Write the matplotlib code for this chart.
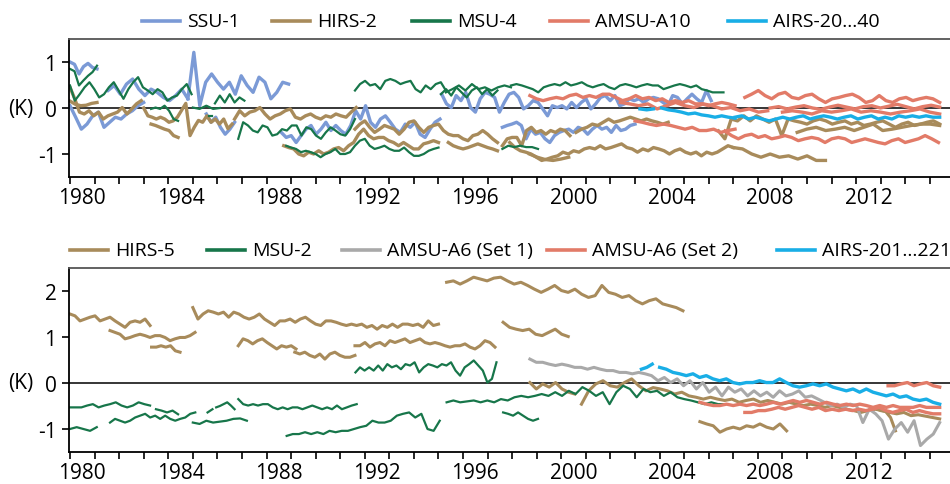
import numpy as np
import matplotlib
matplotlib.use('Agg')
import matplotlib.pyplot as plt
from matplotlib.lines import Line2D
from matplotlib.transforms import blended_transform_factory

plt.rcParams['font.family'] = ['Open Sans', 'DejaVu Sans']
plt.rcParams['axes.unicode_minus'] = False

# colours
c_ssu = '#7b9ad6'
c_hirs = '#a88b5b'
c_msu = '#17764a'
c_amsu = '#e27b68'
c_airs = '#19aee6'
c_gray = '#a9a9a9'

# ---------------- top panel: (start year, end year, values in K) ----------------
ssu1 = [
    (1980.0, 1981.1, [1.0, 0.95, 0.74, 0.9, 0.97, 0.88, 0.85]),
    (1980.0, 1983.0, [0.05, -0.2, -0.46, -0.35, -0.17, -0.09, -0.42, -0.31, -0.2, -0.24, -0.13, -0.06, 0.05, 0.12]),
    (1981.55, 1984.8, [0.38, 0.49, 0.3, 0.52, 0.63, 0.41, 0.27, 0.41, 0.34, 0.23, 0.16, 0.27, 0.41, 0.2]),
    (1984.8, 1988.9, [0.2, 1.21, 0.05, 0.56, 0.74, 0.56, 0.41, 0.56, 0.3, 0.7, 0.49, 0.34, 0.67, 0.56, 0.2, 0.34, 0.56, 0.52]),
    (1985.55, 1986.7, [-0.13, -0.31, -0.2, -0.42, -0.57, -0.46, -0.31]),
    (1988.6, 1995.06, [-0.53, -0.64, -0.6, -0.75, -0.6, -0.46, -0.38, -0.57, -0.46, -0.31, -0.49, -0.38, -0.49, -0.57, -0.38,
                       -0.06, -0.24, 0.05, -0.31, -0.42, -0.24, -0.17, -0.31, -0.46, -0.53, -0.35, -0.42, -0.31, -0.57, -0.64,
                       -0.46, -0.31, -0.24]),
    (1995.13, 2006.1, [0.3, 0.09, 0.01, 0.27, 0.16, 0.34, 0.01, -0.09, 0.2, 0.34, 0.3, 0.23, -0.09, 0.12, 0.3, 0.34,
                       0.23, -0.02, 0.05, 0.16, 0.12, -0.02, -0.17, 0.05, 0.01, 0.05, -0.02, 0.12, 0.01, 0.12, 0.2, -0.02,
                       0.09, 0.23, 0.27, 0.16, 0.27, 0.05, 0.09, 0.2, 0.16, 0.2, 0.12, 0.2, 0.23, 0.2, 0.12, 0.05, 0.27,
                       0.23, 0.09, 0.2, 0.3, 0.2, 0.12, 0.38, 0.16]),
    (1997.6, 2003.0, [-0.42, -0.38, -0.35, -0.31, -0.38, -0.67, -0.46, -0.57, -0.53, -0.67, -0.75, -0.6, -0.53, -0.49,
                      -0.46, -0.53, -0.42, -0.46, -0.57, -0.46, -0.38, -0.46, -0.42, -0.53, -0.38, -0.49, -0.46, -0.38, -0.35]),
]

hirs2 = [
    (1980.0, 1981.1, [0.15, 0.08, 0.05, 0.06, 0.1, 0.12]),
    (1980.0, 1982.9, [0.45, 0.2, -0.09, -0.13, -0.06, -0.17, -0.09, -0.24, -0.17, -0.13, -0.09, 0.01, -0.13, -0.02, 0.09, 0.16]),
    (1983.0, 1986.6, [0.0, -0.17, -0.2, -0.24, -0.2, -0.24, -0.31, -0.28, -0.2, -0.05, 0.1, -0.6, -0.42, -0.27,
                      -0.31, -0.17, -0.31, -0.24, -0.35, -0.24, -0.45, -0.35]),
    (1983.3, 1984.4, [-0.35, -0.38, -0.42, -0.46, -0.49, -0.6, -0.64]),
    (1986.7, 1991.65, [-0.24, -0.06, -0.17, -0.09, -0.06, 0.01, -0.13, -0.24, -0.17, -0.13, -0.06, -0.02, -0.2, -0.24,
                       -0.17, -0.13, -0.2, -0.24, -0.17, -0.2, -0.13, -0.17, -0.2, -0.09, 0.01]),
    (1988.7, 1995.0, [-0.82, -0.86, -0.89, -1.0, -1.04, -0.96, -1.0, -0.93, -1.0, -0.96, -0.89, -0.86, -0.93, -0.82, -0.75,
                      -0.57, -0.46, -0.6, -0.67, -0.64, -0.64, -0.71, -0.75, -0.82, -0.75, -0.82, -0.89, -0.89, -0.78, -0.75,
                      -0.71, -0.75]),
    (1991.6, 1997.4, [-0.46, -0.35, -0.28, -0.42, -0.53, -0.46, -0.38, -0.42, -0.46, -0.57, -0.46, -0.31, -0.28, -0.42,
                      -0.53, -0.42, -0.38, -0.35, -0.49, -0.57, -0.6, -0.6, -0.67, -0.71, -0.6, -0.57, -0.49, -0.57, -0.67, -0.75]),
    (1995.4, 1997.4, [-0.75, -0.82, -0.86, -0.89, -0.86, -0.82, -0.78, -0.82, -0.86, -0.89, -0.93]),
    (1997.6, 2000.35, [-0.82, -0.67, -0.64, -0.64, -0.82, -0.49, -0.42, -0.53, -0.49, -0.57, -0.49, -0.53, -0.46, -0.49, -0.6]),
    (2000.6, 2004.35, [-0.53, -0.46, -0.42, -0.35, -0.38, -0.31, -0.24, -0.31, -0.28, -0.24, -0.2, -0.24, -0.28,
                       -0.24, -0.28, -0.31, -0.35, -0.31]),
    (1997.9, 2007.0, [-0.75, -0.86, -0.93, -0.96, -1.0, -1.07, -1.14, -1.11, -1.07, -1.04, -0.96, -1.0, -0.93, -0.96,
                      -0.89, -0.86, -0.89, -0.82, -0.89, -0.86, -0.82, -0.78, -0.86, -0.89, -0.96, -0.89, -0.93, -0.86,
                      -0.89, -0.93, -1.0, -0.93, -0.89, -0.96, -1.0, -0.96, -1.04, -0.96, -1.0, -0.96, -0.89, -0.82, -0.86]),
    (2007.0, 2010.75, [-0.86, -0.89, -1.0, -1.07, -1.0, -1.07, -1.04, -1.11, -1.04, -1.14, -1.14]),
    (1998.7, 2000.3, [-1.0, -1.07, -1.12, -1.14, -1.11, -1.07]),
    (2006.4, 2015.4, [-0.5, -0.67, -0.24, -0.28, -0.17, -0.28, -0.17, -0.24, -0.31, -0.24, -0.6, -0.24, -0.28, -0.31,
                      -0.35, -0.28, -0.24, -0.28, -0.35, -0.31, -0.28, -0.35, -0.31, -0.38, -0.35, -0.31, -0.28, -0.35,
                      -0.42, -0.35, -0.31, -0.38, -0.35, -0.31, -0.28, -0.35]),
    (2009.6, 2015.4, [-0.53, -0.46, -0.42, -0.49, -0.46, -0.42, -0.49, -0.42, -0.35, -0.49, -0.46, -0.42, -0.38, -0.35, -0.35, -0.38]),
]

msu4 = [
    (1980.0, 1981.1, [0.85, 0.8, 0.49, 0.6, 0.7, 0.78, 0.92]),
    (1980.0, 1984.95, [0.49, 0.16, 0.3, 0.45, 0.56, 0.41, 0.23, 0.3, 0.45, 0.56, 0.38, 0.2, 0.41, 0.56, 0.67, 0.45,
                       0.38, 0.3, 0.41, 0.34, 0.16, 0.23, 0.27, 0.41, 0.52, 0.3]),
    (1983.3, 1984.4, [-0.02, 0.01, -0.02, 0.05, -0.06, -0.24, -0.28]),
    (1985.0, 1986.1, [0.01, -0.02, 0.05, -0.02, 0.0]),
    (1985.65, 1985.8, [-0.17, -0.17]),
    (1985.9, 1987.1, [0.1, 0.27, 0.12, 0.3, 0.12, 0.23, 0.16]),
    (1986.85, 1991.6, [-0.67, -0.31, -0.38, -0.49, -0.53, -0.38, -0.42, -0.6, -0.57, -0.46, -0.49, -0.38, -0.38, -0.6,
                       -0.42, -0.46, -0.6, -0.67, -0.53, -0.42, -0.49, -0.57, -0.6, -0.46, -0.24]),
    (1988.8, 1995.0, [-0.82, -0.86, -0.89, -0.96, -0.93, -0.96, -1.0, -1.07, -1.0, -0.96, -0.89, -1.0, -1.0, -0.96, -0.82,
                      -0.71, -0.67, -0.82, -0.89, -0.86, -0.82, -0.89, -0.93, -0.93, -0.86, -0.96, -1.04, -1.04, -1.0, -0.93,
                      -0.89, -0.86]),
    (1991.6, 1995.3, [0.38, 0.52, 0.59, 0.49, 0.52, 0.41, 0.59, 0.63, 0.59, 0.52, 0.56, 0.59, 0.41, 0.34, 0.49, 0.41,
                      0.52, 0.56, 0.38]),
    (1995.3, 1997.95, [0.34, 0.41, 0.49, 0.38, 0.52, 0.41, 0.45, 0.38, 0.45, 0.49, 0.45]),
    (1997.95, 2006.6, [0.49, 0.52, 0.49, 0.45, 0.41, 0.34, 0.45, 0.49, 0.52, 0.49, 0.56, 0.49, 0.52, 0.56, 0.49, 0.45,
                       0.49, 0.52, 0.45, 0.41, 0.49, 0.52, 0.49, 0.45, 0.49, 0.52, 0.49, 0.49, 0.41, 0.45, 0.49, 0.52,
                       0.49, 0.45, 0.49, 0.41, 0.38, 0.34, 0.34, 0.34]),
    (1995.1, 1997.4, [0.3, 0.41, 0.27, 0.45, 0.34, 0.23, 0.38, 0.45, 0.3, 0.41, 0.27, 0.38]),
    (1997.6, 1999.05, [-0.89, -0.82, -0.85, -0.82, -0.85, -0.85, -0.89]),
]

amsu10 = [
    (1998.72, 2007.07, [0.27, 0.2, 0.16, 0.2, 0.23, 0.2, 0.27, 0.3, 0.23, 0.27, 0.23, 0.3, 0.3, 0.23, 0.16, 0.2, 0.27,
                        0.2, 0.23, 0.16, 0.2, 0.12, 0.16, 0.12, 0.16, 0.09, 0.09, 0.05, 0.09, 0.12, 0.09, 0.05]),
    (2002.4, 2008.4, [0.12, 0.09, 0.05, 0.09, -0.02, 0.05, 0.12, 0.05, 0.01, 0.09, 0.05, -0.02, 0.01, -0.06, -0.02, -0.09, -0.06]),
    (2007.47, 2015.4, [0.23, 0.3, 0.38, 0.27, 0.2, 0.3, 0.34, 0.23, 0.2, 0.27, 0.3, 0.2, 0.12, 0.2, 0.23, 0.27, 0.3,
                       0.23, 0.12, 0.16, 0.27, 0.16, 0.12, 0.2, 0.23, 0.16, 0.2, 0.23, 0.2, 0.12]),
    (2008.5, 2015.4, [0.0, 0.03, -0.02, 0.02, 0.05, 0.0, -0.03, 0.02, 0.06, 0.02, -0.02, 0.03, 0.05, 0.0, 0.04, 0.08,
                      0.03, -0.02, 0.03, 0.06, 0.02]),
    (2009.0, 2015.4, [-0.09, -0.06, -0.09, -0.13, -0.06, -0.09, -0.06, -0.02, -0.09, -0.06, -0.09, -0.13, -0.09, -0.06,
                      -0.02, -0.09, -0.13]),
    (2003.0, 2007.07, [-0.28, -0.31, -0.35, -0.38, -0.35, -0.38, -0.42, -0.46, -0.42, -0.49, -0.49, -0.46, -0.53, -0.49, -0.46]),
    (2006.66, 2015.35, [-0.5, -0.6, -0.67, -0.6, -0.57, -0.64, -0.6, -0.67, -0.64, -0.6, -0.64, -0.71, -0.67, -0.64,
                        -0.67, -0.75, -0.67, -0.64, -0.67, -0.75, -0.71, -0.67, -0.71, -0.75, -0.78, -0.71, -0.67, -0.75,
                        -0.71, -0.67, -0.6, -0.67, -0.75]),
]

airs40 = [
    (2003.2, 2003.75, [-0.02, -0.04, -0.02]),
    (2004.08, 2007.07, [0.0, -0.04, -0.06, -0.09, -0.13, -0.11, -0.15, -0.17, -0.2, -0.17, -0.2, -0.22]),
    (2007.07, 2015.4, [-0.2, -0.17, -0.24, -0.2, -0.24, -0.28, -0.24, -0.2, -0.24, -0.2, -0.17, -0.24, -0.2, -0.17,
                       -0.2, -0.24, -0.2, -0.17, -0.24, -0.2, -0.17, -0.24, -0.2, -0.24, -0.17, -0.2, -0.17, -0.2,
                       -0.17, -0.2, -0.2]),
]

# ---------------- bottom panel ----------------
hirs5 = [
    (1980.0, 1983.26, [1.5, 1.46, 1.35, 1.39, 1.43, 1.46, 1.35, 1.39, 1.43, 1.35, 1.28, 1.21, 1.32, 1.35, 1.32, 1.39, 1.25]),
    (1981.63, 1985.09, [1.14, 1.1, 1.06, 0.96, 0.99, 1.03, 1.06, 1.03, 0.99, 1.03, 1.03, 0.99, 0.92, 0.96, 0.99, 0.99, 1.03, 1.1]),
    (1983.32, 1984.48, [0.78, 0.78, 0.81, 0.78, 0.81, 0.7, 0.67]),
    (1985.0, 1995.0, [1.64, 1.39, 1.5, 1.57, 1.54, 1.5, 1.54, 1.43, 1.54, 1.5, 1.43, 1.39, 1.43, 1.5, 1.39, 1.32, 1.25,
                      1.35, 1.35, 1.39, 1.32, 1.39, 1.43, 1.35, 1.28, 1.25, 1.35, 1.35, 1.32, 1.28, 1.25, 1.28, 1.25,
                      1.28, 1.21, 1.25, 1.17, 1.25, 1.21, 1.28, 1.21, 1.28, 1.28, 1.25, 1.28, 1.21, 1.35, 1.25, 1.28]),
    (1986.85, 1989.2, [0.81, 0.96, 0.92, 0.85, 0.92, 0.96, 0.88, 0.81, 0.74, 0.81, 0.78, 0.81, 0.74]),
    (1989.15, 1991.6, [0.67, 0.63, 0.67, 0.6, 0.56, 0.63, 0.52, 0.63, 0.67, 0.6, 0.56, 0.56, 0.6]),
    (1991.6, 1997.3, [0.81, 0.81, 0.88, 0.78, 0.85, 0.88, 0.81, 0.92, 0.88, 0.92, 0.96, 0.88, 0.92, 0.96, 0.88, 0.85,
                      0.88, 0.85, 0.81, 0.78, 0.81, 0.81, 0.85, 0.78, 0.74, 0.81, 0.92, 0.88, 0.78]),
    (1995.33, 2004.95, [2.19, 2.22, 2.15, 2.22, 2.3, 2.26, 2.22, 2.28, 2.3, 2.22, 2.15, 2.19, 2.12, 2.04, 1.97, 2.04,
                        2.12, 2.01, 1.97, 2.04, 1.93, 1.86, 1.9, 2.12, 1.97, 1.93, 1.86, 1.9, 1.79, 1.72, 1.79, 1.83,
                        1.72, 1.68, 1.64, 1.57]),
    (1997.63, 2000.28, [1.32, 1.21, 1.17, 1.14, 1.17, 1.06, 1.03, 1.1, 1.17, 1.06, 1.01]),
    (1998.72, 2000.55, [0.01, -0.13, -0.02, -0.09, 0.01, -0.13, -0.2, -0.24]),
    (2000.82, 2015.4, [-0.46, -0.17, -0.02, 0.05, -0.06, -0.09, 0.01, 0.09, -0.06, -0.17, -0.1, -0.13, -0.17, -0.24,
                       -0.2, -0.28, -0.31, -0.35, -0.31, -0.35, -0.38, -0.35, -0.42, -0.38, -0.35, -0.42, -0.38, -0.42,
                       -0.46, -0.42, -0.46, -0.49, -0.46, -0.49, -0.53, -0.49, -0.53, -0.57, -0.6, -0.64, -0.6, -0.57,
                       -0.6, -0.64, -0.67, -0.64, -0.71, -0.69, -0.72, -0.75, -0.78]),
    (2012.8, 2013.6, [-0.55, -0.6, -0.62, -0.75, -1.04]),
    (2005.64, 2009.17, [-0.84, -0.89, -0.93, -1.07, -1.0, -0.96, -1.0, -0.93, -0.96, -0.89, -0.96, -1.0, -0.89, -1.04]),
]

msu2 = [
    (1980.0, 1981.09, [-1.0, -0.96, -1.0, -1.04, -0.96]),
    (1980.0, 1983.26, [-0.53, -0.53, -0.53, -0.49, -0.46, -0.53, -0.49, -0.46, -0.42, -0.49, -0.53, -0.49, -0.42, -0.46, -0.49]),
    (1981.63, 1985.1, [-0.86, -0.78, -0.82, -0.86, -0.82, -0.75, -0.71, -0.67, -0.75, -0.71, -0.78, -0.71, -0.78,
                       -0.82, -0.78, -0.75, -0.67, -0.64]),
    (1983.5, 1984.4, [-0.57, -0.6, -0.64, -0.6, -0.68]),
    (1985.0, 1987.2, [-0.86, -0.89, -0.82, -0.86, -0.84, -0.82, -0.78, -0.77, -0.82]),
    (1985.6, 1985.8, [-0.64, -0.57]),
    (1985.95, 1986.7, [-0.53, -0.5, -0.46, -0.42, -0.49, -0.57]),
    (1986.85, 1991.67, [-0.35, -0.46, -0.49, -0.46, -0.49, -0.46, -0.46, -0.53, -0.57, -0.53, -0.57, -0.53, -0.53,
                        -0.57, -0.53, -0.49, -0.53, -0.57, -0.53, -0.57, -0.49, -0.57, -0.53, -0.49, -0.46]),
    (1988.82, 1995.05, [-1.15, -1.11, -1.11, -1.07, -1.11, -1.07, -1.11, -1.04, -1.07, -1.04, -1.04, -1.0, -0.96, -0.93,
                        -0.82, -0.86, -0.86, -0.82, -0.71, -0.67, -0.64, -0.75, -0.67, -1.0, -1.04, -0.82]),
    (1991.62, 1997.36, [0.23, 0.34, 0.27, 0.34, 0.27, 0.38, 0.27, 0.41, 0.34, 0.38, 0.3, 0.41, 0.38, 0.45, 0.23, 0.34,
                        0.41, 0.38, 0.34, 0.41, 0.38, 0.45, 0.27, 0.16, 0.34, 0.41, 0.49, 0.38, 0.27, 0.01, 0.09, 0.45]),
    (1995.33, 2006.66, [-0.42, -0.38, -0.42, -0.4, -0.38, -0.42, -0.38, -0.42, -0.35, -0.38, -0.31, -0.28, -0.31,
                        -0.28, -0.24, -0.28, -0.2, -0.28, -0.17, -0.24, -0.09, -0.17, -0.28, -0.2, -0.46, -0.2, -0.06,
                        -0.13, -0.31, -0.13, -0.2, -0.17, -0.28, -0.2, -0.31, -0.35, -0.38, -0.42, -0.46, -0.42, -0.46, -0.46]),
    (1997.63, 1999.05, [-0.64, -0.67, -0.71, -0.64, -0.71, -0.78, -0.82, -0.78]),
]

amsu6_set1 = [
    (1998.72, 2015.4, [0.52, 0.45, 0.45, 0.41, 0.38, 0.41, 0.38, 0.34, 0.34, 0.3, 0.34, 0.3, 0.27, 0.27, 0.23, 0.23,
                       0.2, 0.23, 0.2, 0.16, 0.05, 0.12, 0.01, 0.09, -0.06, 0.05, -0.13, 0.01, -0.2, -0.09, -0.28, -0.09,
                       -0.2, -0.13, -0.28, -0.17, -0.28, -0.2, -0.31, -0.17, -0.28, -0.24, -0.17, -0.31, -0.28, -0.35,
                       -0.42, -0.49, -0.46, -0.53, -0.46, -0.49, -0.86, -0.57, -0.67, -0.82, -1.22, -1.0, -0.86, -1.07,
                       -0.82, -1.36, -1.22, -1.11, -0.86]),
]

amsu6_set2 = [
    (2005.64, 2015.4, [-0.42, -0.46, -0.49, -0.49, -0.46, -0.49, -0.46, -0.49, -0.46, -0.49, -0.46, -0.42, -0.46,
                       -0.42, -0.38, -0.42, -0.38, -0.42, -0.46, -0.42, -0.46, -0.49, -0.46, -0.49, -0.46, -0.49, -0.53,
                       -0.49, -0.53, -0.49, -0.53, -0.53, -0.53, -0.49, -0.53, -0.53, -0.53]),
    (2007.47, 2015.4, [-0.64, -0.64, -0.6, -0.6, -0.57, -0.53, -0.57, -0.53, -0.49, -0.53, -0.57, -0.53, -0.6, -0.57,
                       -0.6, -0.57, -0.6, -0.57, -0.6, -0.57, -0.53, -0.6, -0.64, -0.6, -0.57, -0.64, -0.6, -0.64, -0.67, -0.67]),
    (2013.3, 2015.4, [-0.06, -0.06, -0.02, 0.01, -0.06, -0.02, 0.01, -0.06, -0.09]),
]

airs221 = [
    (2003.26, 2003.7, [0.3, 0.34, 0.41]),
    (2004.0, 2015.4, [0.34, 0.3, 0.23, 0.2, 0.16, 0.2, 0.12, 0.16, 0.09, 0.05, 0.09, 0.01, -0.02, 0.01, 0.01, 0.05,
                      0.01, 0.01, 0.09, 0.01, -0.06, -0.09, -0.06, -0.02, -0.06, -0.02, -0.09, -0.13, -0.17, -0.13,
                      -0.2, -0.13, -0.2, -0.24, -0.28, -0.24, -0.31, -0.28, -0.35, -0.38, -0.35, -0.42, -0.46]),
]

top_series = [('SSU-1', ssu1, c_ssu, 2.4), ('HIRS-2', hirs2, c_hirs, 2.4), ('MSU-4', msu4, c_msu, 1.6),
              ('AMSU-A10', amsu10, c_amsu, 2.4), ('AIRS-20...40', airs40, c_airs, 2.4)]
bot_series = [('HIRS-5', hirs5, c_hirs, 2.2), ('MSU-2', msu2, c_msu, 1.6), ('AMSU-A6 (Set 1)', amsu6_set1, c_gray, 2.2),
              ('AMSU-A6 (Set 2)', amsu6_set2, c_amsu, 2.4), ('AIRS-201...221', airs221, c_airs, 2.4)]

# legend entry layout (pixels from left, and row height from top)
top_leg_x = [142, 272, 412, 550, 728]
bot_leg_x = [70, 207, 342, 547, 777]
top_leg_y = 22
bot_leg_y = 251

W, H = 950, 485
x0, x1 = 1979.96, 2015.82
fs_tick = 15
fs_leg = 14

fig = plt.figure(figsize=(9.5, 4.85), dpi=100)
ax1 = fig.add_axes([69/W, 1-178/H, 881/W, 138/H])
ax2 = fig.add_axes([69/W, 1-453/H, 881/W, 184/H])


def style(ax, ylim, yticks):
    ax.set_xlim(x0, x1)
    ax.set_ylim(*ylim)
    ax.axhline(0, color='black', lw=1.1, zorder=1)
    ax.spines['right'].set_visible(False)
    ax.spines['top'].set_color('#555555')
    for s in ['left', 'bottom', 'top']:
        ax.spines[s].set_linewidth(1.3)
    ax.set_xticks(np.arange(1980, 2016))
    ax.set_xticklabels([])
    ax.set_xticks(np.arange(1980, 2013, 4) + 0.5, minor=True)
    ax.set_xticklabels([str(y) for y in range(1980, 2013, 4)], minor=True, fontsize=fs_tick)
    ax.tick_params(axis='x', which='major', direction='out', length=5, width=1.2)
    ax.tick_params(axis='x', which='minor', length=0, pad=7)
    ax.set_yticks(yticks)
    ax.set_yticklabels([str(v) for v in yticks], fontsize=fs_tick)
    ax.tick_params(axis='y', direction='out', length=5, width=1.2, pad=4)
    tr = blended_transform_factory(ax.transAxes, ax.transData)
    ax.text(-0.04, 0, '(K)', transform=tr, ha='right', va='center', fontsize=fs_tick)


def draw(ax, series, leg_x, leg_y):
    for i, (name, segs, color, lw) in enumerate(series):
        for t0, t1, vals in segs:
            ax.plot(np.linspace(t0, t1, len(vals)), vals, color=color, lw=lw, zorder=2 + i * 0.1)
        # legend entry drawn by hand
        yf = 1 - leg_y / H
        fig.add_artist(Line2D([leg_x[i] / W, (leg_x[i] + 38) / W], [yf, yf], transform=fig.transFigure,
                              color=color, lw=2.6))
        fig.text((leg_x[i] + 45) / W, yf, name, ha='left', va='center', fontsize=fs_leg)


style(ax1, (-1.5, 1.5), [-1, 0, 1])
style(ax2, (-1.5, 2.5), [-1, 0, 1, 2])
draw(ax1, top_series, top_leg_x, top_leg_y)
draw(ax2, bot_series, bot_leg_x, bot_leg_y)

fig.savefig('out.png', dpi=100)
